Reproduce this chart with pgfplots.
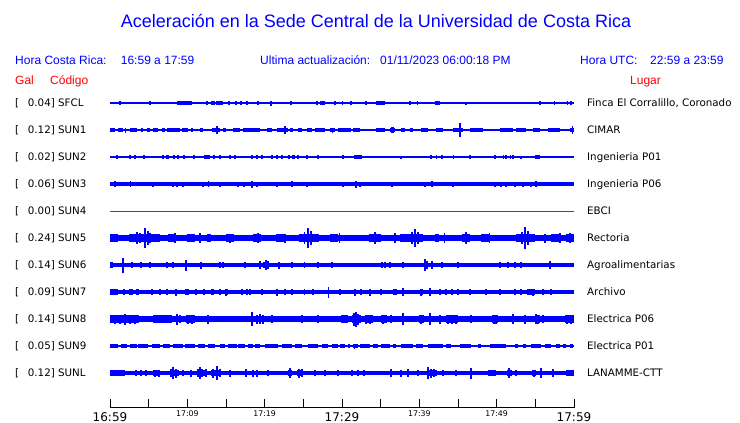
\documentclass[border=0pt]{standalone}
\usepackage{fontspec}
\setmainfont{Liberation Sans}
\newfontfamily\dejavu{DejaVu Sans}
\usepackage{pgfplots}
\pgfplotsset{compat=1.18}
\usepackage{pgfplotstable}

% ---------- SFCL ----------
\pgfplotstableread{
t1 t2
5.05 5.30
8.66 10.60
13.70 14.60
27.16 27.80
34.40 35.56
42.03 42.67
55.45 55.75
}\sfclB
\pgfplotstableread{
t a
1.29 2
12.54 2
13.19 2
13.45 2
15.39 2
16.29 2
16.94 2
17.72 2
19.14 2
20.82 2.5
23.40 2
26.77 2
29.10 2
30.10 2
31.16 2
33.10 2
38.80 2
39.80 2
46.03 1.5
57.50 2
59.20 2
59.60 2
}\sfclS
% ---------- SUN1 ----------
\pgfplotstableread{
t1 t2
0 0.65
1.03 1.68
2.59 3.49
4.78 5.17
5.56 6.21
6.72 7.11
7.37 9.05
9.31 10.09
10.47 10.73
11.64 12.03
13.19 14.22
14.61 15.00
15.90 16.81
17.20 19.40
20.30 20.95
21.60 23.02
23.28 23.66
24.31 24.83
25.47 25.86
26.51 27.80
28.45 29.09
29.48 31.16
31.42 32.33
34.40 35.56
36.20 36.85
37.63 38.15
38.79 39.18
40.22 41.12
42.16 43.06
44.35 45.65
46.55 48.23
50.43 52.11
52.50 53.79
54.70 55.60
56.64 58.19
59.48 60
}\sunaB
\pgfplotstableread{
t a
2.00 2.5
4.14 2
13.84 4
22.63 4
26.00 2.2
28.80 2.5
36.40 3
36.60 3
45.26 7
47.00 2.2
52.00 2
59.80 4
}\sunaS
% ---------- SUN2 ----------
\pgfplotstableread{
t1 t2
6.70 6.95
7.30 7.60
8.10 8.45
9.50 9.65
12.10 12.95
13.30 13.60
18.20 18.50
18.90 19.15
23.00 23.30
23.50 23.90
31.60 32.35
41.35 41.65
42.10 42.25
44.30 44.45
50.80 50.95
51.70 51.85
55.00 55.60
}\sunbB
\pgfplotstableread{
t a
0.90 2.2
2.59 1.8
3.23 1.8
4.40 1.8
8.80 1.8
10.86 1.8
14.22 1.8
15.52 1.8
16.16 1.8
19.65 1.8
20.95 1.8
21.60 1.8
22.24 1.8
24.31 1.8
25.47 1.8
26.90 1.8
30.13 1.8
32.46 1.8
37.63 1.5
42.93 1.8
46.55 1.8
49.78 1.8
51.20 1.8
52.11 1.8
53.15 1.5
}\sunbS
% ---------- SUN3 ----------
\pgfplotstableread{
t1 t2
48.0 60.0
}\suncB
\pgfplotstableread{
t a
0.65 3
2.70 3
5.56 2.5
8.15 2.5
8.66 2.5
9.44 2.5
12.03 2.5
12.74 3
14.22 2.5
16.55 2.5
17.33 2.5
18.36 3.5
19.00 2.5
21.60 2.5
23.53 3
25.47 2.5
30.13 2.5
31.81 3.5
32.33 2.5
36.47 2.5
40.73 2.5
41.64 3.2
44.35 2.5
49.78 2.5
50.56 2.5
51.20 2.5
52.37 2.5
53.40 2.5
54.44 2.5
55.09 3
}\suncS
% ---------- SUN5 ----------
\pgfplotstableread{
t1 t2
0 1
2.5 6.5
7.5 8.5
10 11
12.5 13
15 16
18.5 19.5
21.5 22.5
24.5 27
28.5 29.5
33.5 35
37.5 40.5
42 42.5
45.5 46.5
48 49
52.5 55
57 58
59 60
}\suneB
\pgfplotstableread{
t a
3.49 6
3.88 5
4.53 10
4.91 7
5.17 5
8.40 5
11.64 5
15.52 4.5
19.14 5
22.63 4.5
25.20 6
25.60 10
26.00 7
29.70 5
34.27 6
36.85 5
39.05 6
39.44 9
39.83 6
43.30 5
46.03 6
49.10 5
53.27 6
53.66 11
54.05 7
56.25 4.5
58.19 5
59.48 5
}\suneS
% ---------- SUN6 ----------
\pgfplotstableread{
t1 t2
0 0.4
19.8 20.6
40.6 41.1
}\sunfB
\pgfplotstableread{
t a
1.68 7.5
2.84 3
4.00 3
5.17 3
7.37 3
8.15 3
9.83 5.5
11.77 3.5
14.22 3
14.61 3
17.46 3
19.40 4
20.17 5
20.43 4
21.85 3.5
23.53 3
25.20 2.8
26.90 2.8
28.70 2.8
35.17 3
35.56 3
36.20 3
37.89 3
40.73 6
41.00 4
41.64 4
42.93 3
45.00 3
50.43 3
51.46 2.8
52.37 2.8
53.15 2.8
56.90 4
}\sunfS
% ---------- SUN7 ----------
\pgfplotstableread{
t1 t2
0 1.0
1.7 2.0
13.0 13.4
14.9 15.3
36.6 37.1
40.1 40.5
53.9 55.0
}\sungB
\pgfplotstableread{
t a
1.81 3.2
2.59 3
2.84 3
3.49 3
3.62 3
5.43 3
6.47 3
7.37 3
8.53 3.5
9.83 3
10.09 3
11.12 3
12.15 3
13.19 3
14.22 3
15.00 3.5
17.07 3
17.72 3
18.10 3
19.65 3
21.60 3.5
22.63 3
23.53 3
25.20 3
26.25 3
28.23 5.5
29.74 3
31.68 3.5
32.46 3
33.62 3.5
35.04 3
36.98 3
37.89 4
40.22 3.5
41.38 4
42.67 3
43.45 3
44.22 3
45.00 3
46.55 3
48.62 3
50.43 3
52.37 3
53.15 3
54.70 3.5
55.99 3
57.03 3
}\sungS
% ---------- SUN8 ----------
\pgfplotstableread{
t1 t2
0 3.8
5.5 8.0
9.8 11.0
30.0 30.8
31.3 32.4
33.0 34.0
35.0 35.8
40.0 40.6
43.4 45.0
49.4 50.2
55.0 55.6
58.8 60
}\sunhB
\pgfplotstableread{
t a
0.65 4.5
1.29 4.5
1.94 5.5
2.59 4.5
3.23 4.5
5.82 4
6.47 4
7.11 4
7.76 4
8.66 5.5
9.05 4
10.09 4.5
10.60 4.5
12.67 4.5
18.36 7
19.00 4.5
19.40 5
19.78 4.5
20.95 4
24.83 4
26.90 4
30.00 4
30.52 4
31.55 6.5
31.81 7.5
32.07 5.5
33.10 4.5
33.62 4.5
35.30 4.5
36.34 4
37.89 6
40.22 4.5
41.38 6
42.67 4.5
43.71 4.5
44.22 4.5
44.74 4.5
46.68 4
49.65 4.5
49.91 4.5
52.11 5
53.66 4.5
55.09 5
55.35 4.5
55.99 4
59.09 4.5
59.60 4.5
}\sunhS
% ---------- SUN9 ----------
\pgfplotstableread{
t1 t2
0 1.03
1.55 2.20
2.59 3.49
3.62 4.91
5.43 6.47
6.85 7.76
8.15 9.44
9.70 10.99
11.38 12.28
12.67 13.58
14.22 14.87
15.26 16.42
16.55 17.46
17.85 18.49
18.75 19.40
20.04 21.72
22.24 23.53
23.92 24.83
25.60 26.90
27.41 28.19
28.70 29.48
29.74 30.39
30.78 31.03
31.42 32.07
32.33 33.62
34.01 34.66
35.04 36.20
36.59 36.98
37.63 39.18
39.57 40.47
41.12 43.06
43.45 44.09
45.26 46.68
47.59 47.97
49.14 51.20
52.37 52.76
53.40 53.79
54.44 55.73
56.25 57.03
57.67 58.19
58.58 58.97
59.48 59.87
}\suniB
\pgfplotstableread{
t a
1.50 2
12.00 2
31.60 2.5
45.50 2
}\suniS
% ---------- SUNL ----------
\pgfplotstableread{
t1 t2
0 2.0
5.5 6.5
7.7 8.9
11.2 12.6
13.1 14.2
23.0 23.5
24.2 24.9
41.0 42.3
48.9 49.9
51.4 52.0
54.6 55.1
59.0 60
}\sunlB
\pgfplotstableread{
t a
0.40 3
1.03 3
1.55 3
3.36 3
4.00 3
4.65 3
5.82 3.5
6.34 3.5
7.89 4
8.15 6
8.53 4.5
9.44 3
10.47 3.5
11.38 4
11.64 6
11.90 4
12.41 4
13.32 4.5
13.84 7
14.22 4
15.52 3.5
17.59 4
18.49 3.5
19.00 3.5
20.43 3
23.28 5
24.44 4.5
24.83 4
26.51 3
27.80 3
29.48 3
31.29 3
32.07 3
32.84 3
36.34 4
37.63 3.5
38.53 4
39.83 3
41.12 6
41.51 4.5
41.90 4
43.06 3
44.74 3
46.68 5.5
49.65 3
51.59 5
52.50 3
54.83 3.5
55.73 5
57.28 4
}\sunlS

% #1 row y (px), #2 base width, #3 block width, #4 block table, #5 spike table
\newcommand{\trace}[5]{%
  \addplot[blue, line width=#2pt, forget plot] coordinates {(0,#1) (60,#1)};
  \addplot[draw=none, mark=none, forget plot,
    error bars/.cd, x dir=both, x explicit, error mark=none,
    error bar style={draw=blue, line width=#3pt}]
    table[x expr={(\thisrow{t1}+\thisrow{t2})/2}, y expr=#1,
          x error expr={(\thisrow{t2}-\thisrow{t1})/2}] {#4};
  \addplot[draw=none, mark=none, forget plot,
    error bars/.cd, y dir=both, y explicit, error mark=none,
    error bar style={draw=blue, line width=1.2pt}]
    table[x=t, y expr=#1, y error=a] {#5};
}

\begin{document}
\begin{tikzpicture}
\useasboundingbox (0,0) rectangle (740pt,423pt);
\begin{axis}[at={(0pt,0pt)}, anchor=south west, scale only axis,
  width=740pt, height=423pt,
  xmin=-14.2241, xmax=81.4655, ymin=0, ymax=423, y dir=reverse,
  hide axis, clip=false]
\trace{103}{1.2}{3.3}{\sfclB}{\sfclS}
\trace{130}{1.2}{3.3}{\sunaB}{\sunaS}
\trace{157}{1.2}{3.2}{\sunbB}{\sunbS}
\trace{184}{3.3}{4.2}{\suncB}{\suncS}
\addplot[red, line width=1pt, forget plot] coordinates {(0,211) (60,211)};
\trace{238}{6.5}{8.5}{\suneB}{\suneS}
\trace{265}{4.0}{6.0}{\sunfB}{\sunfS}
\trace{292}{4.0}{6.0}{\sungB}{\sungS}
\trace{319}{6.3}{8.3}{\sunhB}{\sunhS}
\trace{346}{1.2}{3.3}{\suniB}{\suniS}
\trace{373}{4.2}{6.3}{\sunlB}{\sunlS}
\end{axis}

% time axis
\begin{axis}[at={(110pt,15pt)}, anchor=south west, scale only axis,
  width=464pt, height=8pt, xmin=0, xmax=60, ymin=0, ymax=1,
  axis x line=bottom, axis y line=none,
  axis line style={-, black, line width=1pt},
  tick align=inside, major tick length=9pt,
  tick style={black, line width=1pt},
  xtick={5,10,15,20,25,35,40,45,50,55},
  xticklabels={,17:09,,17:19,,,17:39,,17:49,},
  xticklabel style={inner sep=0pt, anchor=north, yshift=-3pt,
    font=\dejavu\fontsize{7.8}{9}\selectfont},
  extra x ticks={0,30,60},
  extra x tick labels={16:59,17:29,17:59},
  extra x tick style={xticklabel style={inner sep=0pt, anchor=north, yshift=-1.5pt,
    font=\dejavu\fontsize{12}{14}\selectfont}},
  ]
\addplot[draw=none] coordinates {(0,0) (60,0)};
\end{axis}

\begin{scope}[shift={(0pt,423pt)}, x=1pt, y=-1pt]
\tikzset{lab/.style={anchor=base west, inner sep=0pt}}
\node[anchor=base, inner sep=0pt, text=blue, font=\fontsize{18}{20}\selectfont] at (376,28) {Aceleración en la Sede Central de la Universidad de Costa Rica};
\begin{scope}[every node/.style={lab, text=blue, font=\fontsize{12}{14}\selectfont}]
\node at (15,64.3) {Hora Costa Rica:};
\node at (120.7,64.3) {16:59 a 17:59};
\node at (260,64.3) {Ultima actualización:};
\node at (380,64.3) {01/11/2023 06:00:18 PM};
\node at (580,64.3) {Hora UTC:};
\node at (650,64.3) {22:59 a 23:59};
\end{scope}
\begin{scope}[every node/.style={lab, text=red, font=\fontsize{12}{14}\selectfont}]
\node at (15,84.6) {Gal};
\node at (50,84.6) {Código};
\node at (630,84.6) {Lugar};
\end{scope}
\begin{scope}[every node/.style={lab, text=black, font=\dejavu\fontsize{10.3}{12}\selectfont}]
\foreach \yy/\gal/\cod/\lug in {103/0.04/SFCL/{Finca El Corralillo, Coronado},
  130/0.12/SUN1/CIMAR, 157/0.02/SUN2/Ingenieria P01, 184/0.06/SUN3/Ingenieria P06,
  211/0.00/SUN4/EBCI, 238/0.24/SUN5/Rectoria, 265/0.14/SUN6/Agroalimentarias,
  292/0.09/SUN7/Archivo, 319/0.14/SUN8/Electrica P06, 346/0.05/SUN9/Electrica P01,
  373/0.12/SUNL/LANAMME-CTT}{
  \node at (15,\yy+3.8) {[};
  \node at (27.7,\yy+3.8) {\gal] \cod};
  \node at (587,\yy+3.8) {\lug};
}
\end{scope}
\end{scope}
\end{tikzpicture}
\end{document}
